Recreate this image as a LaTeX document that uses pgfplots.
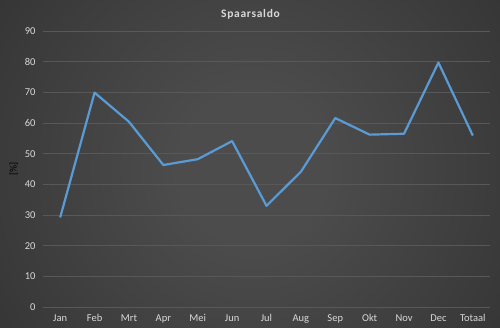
\documentclass[border=0pt]{standalone}
\usepackage{pgfplots}
\pgfplotsset{compat=1.18}
\usepackage{fontspec}
\setmainfont{Carlito}
\definecolor{bgin}{HTML}{4C4C4C}
\definecolor{bgout}{HTML}{222222}
\definecolor{gridc}{HTML}{585858}
\definecolor{txt}{HTML}{D9D9D9}
\definecolor{lineblue}{HTML}{5B9BD5}
\pgfdeclareradialshading{bgshade}{\pgfpoint{0bp}{0bp}}{color(0bp)=(bgin); color(6bp)=(bgin); color(41bp)=(bgout); color(50bp)=(bgout)}
\begin{document}
\begin{tikzpicture}
\useasboundingbox (0,0) rectangle (500pt,328pt);
\begin{scope}
\clip (0,0) rectangle (500pt,328pt);
\shade[shading=bgshade] (252pt,160pt) circle (310pt);
\end{scope}
\node[font=\fontsize{11.5}{13}\selectfont\bfseries\addfontfeature{LetterSpace=6}, text=txt] at (250.5pt,314pt) {Spaarsaldo};
\begin{axis}[
  at={(43pt,21pt)}, anchor=south west,
  scale only axis, width=447pt, height=276pt,
  xmin=-0.5, xmax=12.5, ymin=0, ymax=90,
  ytick={0,10,...,90},
  xtick={0,...,12},
  xticklabels={Jan,Feb,Mrt,Apr,Mei,Jun,Jul,Aug,Sep,Okt,Nov,Dec,Totaal},
  axis line style={draw=none},
  major tick length=0pt,
  ymajorgrids, grid style={gridc, line width=0.75pt},
  ticklabel style={font=\fontsize{10.5}{12}\selectfont, text=txt},
  /pgf/number format/assume math mode=true,
  yticklabel style={xshift=-4pt},
  xticklabel style={yshift=-4pt},
  ylabel={[\%]}, ylabel style={font=\fontsize{10.5}{12}\selectfont\bfseries, text=txt},
  every axis y label/.style={at={(ticklabel cs:0.5)}, rotate=90, anchor=south, xshift=-0pt},
  clip=false,
]
\addplot[lineblue, line width=2.2pt, line join=round] coordinates {
(0,29.2) (1,69.9) (2,60.4) (3,46.3) (4,48.2) (5,54.1) (6,33.0) (7,44.1) (8,61.6) (9,56.2) (10,56.5) (11,79.7) (12,55.9)
};
\end{axis}
\end{tikzpicture}
\end{document}
